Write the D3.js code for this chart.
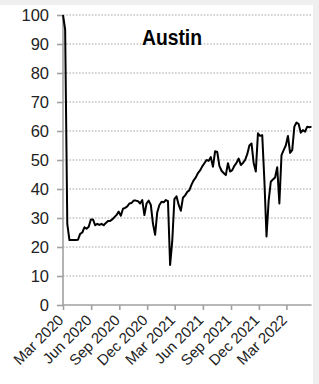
<!DOCTYPE html>
<html>
<head>
<meta charset="utf-8">
<script src="https://cdn.jsdelivr.net/npm/d3@7"></script>
<style>
  html, body { margin: 0; padding: 0; background: #efefef; }
  svg { display: block; }
</style>
</head>
<body>
<script>
// weekly readings, Austin
const dates = [
  "2020-03-01","2020-03-08","2020-03-15","2020-03-22","2020-03-29",
  "2020-04-05","2020-04-12","2020-04-19","2020-04-26",
  "2020-05-03","2020-05-10","2020-05-17","2020-05-24","2020-05-31",
  "2020-06-07","2020-06-14","2020-06-21","2020-06-28",
  "2020-07-05","2020-07-12","2020-07-19","2020-07-26",
  "2020-08-02","2020-08-09","2020-08-16","2020-08-23","2020-08-30",
  "2020-09-06","2020-09-13","2020-09-20","2020-09-27",
  "2020-10-04","2020-10-11","2020-10-18","2020-10-25",
  "2020-11-01","2020-11-08","2020-11-15","2020-11-22","2020-11-29",
  "2020-12-06","2020-12-13","2020-12-20","2020-12-27",
  "2021-01-03","2021-01-10","2021-01-17","2021-01-24","2021-01-31",
  "2021-02-07","2021-02-14","2021-02-21","2021-02-28",
  "2021-03-07","2021-03-14","2021-03-21","2021-03-28",
  "2021-04-04","2021-04-11","2021-04-18","2021-04-25",
  "2021-05-02","2021-05-09","2021-05-16","2021-05-23","2021-05-30",
  "2021-06-06","2021-06-13","2021-06-20","2021-06-27",
  "2021-07-04","2021-07-11","2021-07-18","2021-07-25",
  "2021-08-01","2021-08-08","2021-08-15","2021-08-22","2021-08-29",
  "2021-09-05","2021-09-12","2021-09-19","2021-09-26",
  "2021-10-03","2021-10-10","2021-10-17","2021-10-24","2021-10-31",
  "2021-11-07","2021-11-14","2021-11-21","2021-11-28",
  "2021-12-05","2021-12-12","2021-12-19","2021-12-26",
  "2022-01-02","2022-01-09","2022-01-16","2022-01-23","2022-01-30",
  "2022-02-06","2022-02-13","2022-02-20","2022-02-27",
  "2022-03-06","2022-03-13","2022-03-20","2022-03-27",
  "2022-04-03","2022-04-10","2022-04-17","2022-04-24",
  "2022-05-01","2022-05-08","2022-05-15","2022-05-22"
];

const values = [
  100, 95, 28, 22.4, 22.4,
  22.4, 22.4, 22.5, 24.5,
  25, 26.8, 26.3, 27, 29.5,
  29.5, 27.5, 28, 27.6,
  28, 27.5, 28.3, 29,
  29, 29.5, 30.3, 31, 32.2,
  30.8, 33.2, 33.5, 34,
  35, 35.2, 36, 36,
  35.8, 35, 36.2, 31, 35,
  36, 34.5, 28, 24.2,
  32, 34.5, 35.6, 35.4, 36.2,
  35.8, 13.8, 22, 36.5,
  37.5, 34.5, 32.5, 37,
  37.8, 39, 39.6, 41.5,
  43, 44, 45.5, 46.4, 47.8,
  48.9, 50, 49.7, 51,
  47.7, 53, 52.8, 48,
  46.3, 45.5, 44.8, 48.9, 46,
  46.5, 48, 49, 50.5,
  48.3, 49, 50, 52, 55,
  55.7, 49, 46, 59.2,
  58.3, 58.6, 43, 23.6,
  36, 42.5, 43.3, 44, 47.5,
  35, 51.7, 53.4, 55,
  58.3, 52.5, 53.4, 61.5,
  62.9, 62.4, 59.4, 60.3,
  59.8, 61.5, 61.3, 61.5
];

const xTicks = ["2020-03-01","2020-06-01","2020-09-01","2020-12-01","2021-03-01",
                "2021-06-01","2021-09-01","2021-12-01","2022-03-01"];
const yTicks = [0, 10, 20, 30, 40, 50, 60, 70, 80, 90, 100];
const title = "Austin";

const W = 319, H = 384;
const parse = d3.timeParse("%Y-%m-%d");
const data = dates.map((d, i) => ({ date: parse(d), value: values[i] }));

const svg = d3.select(document.body).append("svg")
  .attr("width", W)
  .attr("height", H);

// white panel, gray frame on top and right
svg.append("rect")
  .attr("x", 0).attr("y", 5)
  .attr("width", 313).attr("height", H - 5)
  .attr("fill", "#fff");

const x = d3.scaleTime()
  .domain([parse("2020-03-01"), parse("2022-05-22")])
  .range([63, 311.5]);

const y = d3.scaleLinear()
  .domain([0, 100])
  .range([305, 15]);

// gridlines
svg.append("g")
  .selectAll("line")
  .data(yTicks.filter(d => d > 0))
  .join("line")
    .attr("x1", x.range()[0])
    .attr("x2", 312)
    .attr("y1", d => y(d))
    .attr("y2", d => y(d))
    .attr("stroke", "#c4c4c4")
    .attr("stroke-width", 1.3)
    .attr("stroke-dasharray", "1.6,1.6");

// y axis
const yAxis = svg.append("g")
  .attr("transform", `translate(${x.range()[0]},0)`)
  .call(d3.axisLeft(y).tickValues(yTicks).tickSize(6).tickPadding(8));

// x axis
const xAxis = svg.append("g")
  .attr("transform", `translate(0,${y(0)})`)
  .call(d3.axisBottom(x).tickValues(xTicks.map(parse)).tickSize(5)
    .tickFormat(d3.timeFormat("%b %Y")));

[yAxis, xAxis].forEach(g => {
  g.select(".domain").attr("stroke", "#a0a0a0").attr("stroke-width", 1.6);
  g.selectAll(".tick line").attr("stroke", "#a0a0a0").attr("stroke-width", 1.6);
  g.selectAll("text")
    .attr("fill", "#222")
    .attr("font-family", "'Liberation Sans', Arial, sans-serif")
    .attr("font-size", 15);
});

yAxis.selectAll("text").attr("font-size", 16.5);

yAxis.select(".domain").attr("d", `M0,${y(0)}V${y(100)}`);
xAxis.select(".domain").attr("d", `M${x.range()[0]},0H${x.range()[1]}`);

xAxis.selectAll(".tick text")
  .attr("text-anchor", "end")
  .attr("dy", null)
  .attr("y", null)
  .attr("transform", "translate(1,16) rotate(-45)");

// line
svg.append("path")
  .datum(data)
  .attr("fill", "none")
  .attr("stroke", "#000")
  .attr("stroke-width", 2)
  .attr("stroke-linejoin", "round")
  .attr("d", d3.line().x(d => x(d.date)).y(d => y(d.value)));

// title
svg.append("text")
  .attr("x", 142)
  .attr("y", 45)
  .attr("font-family", "'Liberation Sans', Arial, sans-serif")
  .attr("font-weight", "bold")
  .attr("font-size", 22)
  .attr("textLength", 60)
  .attr("lengthAdjust", "spacingAndGlyphs")
  .attr("fill", "#000")
  .text(title);
</script>
</body>
</html>
